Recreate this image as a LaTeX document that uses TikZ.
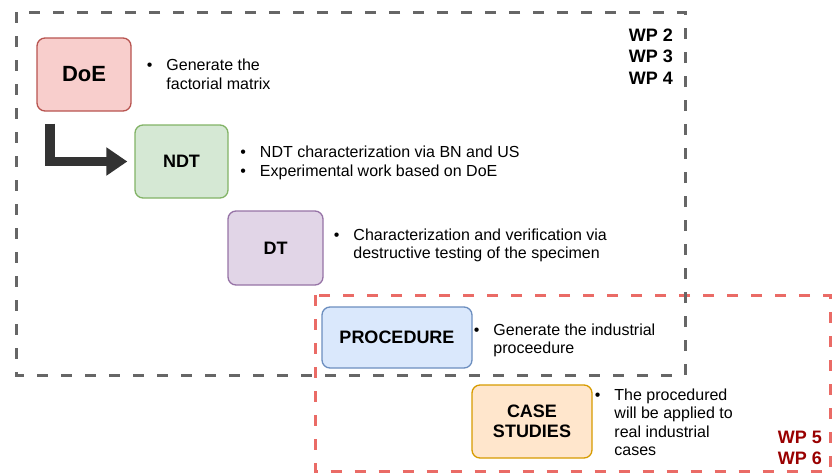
\documentclass[tikz,border=0pt]{standalone}
\usepackage{fontspec}
\setmainfont{Liberation Sans}
\usetikzlibrary{positioning,arrows.meta}

\definecolor{doefill}{HTML}{F8CECC}\definecolor{doeline}{HTML}{B85450}
\definecolor{ndtfill}{HTML}{D5E8D4}\definecolor{ndtline}{HTML}{82B366}
\definecolor{dtfill}{HTML}{E1D5E7}\definecolor{dtline}{HTML}{9673A6}
\definecolor{procfill}{HTML}{DAE8FC}\definecolor{procline}{HTML}{6C8EBF}
\definecolor{casefill}{HTML}{FFE6CC}\definecolor{caseline}{HTML}{D79B00}
\definecolor{wpgrey}{HTML}{666666}\definecolor{wpred}{HTML}{EA6B66}
\definecolor{wpdark}{HTML}{990000}\definecolor{arrowgrey}{HTML}{333333}

\newcommand{\bitems}[1]{\begin{tabular}{@{}c@{\hspace{14pt}}l@{}}#1\end{tabular}}

\tikzset{
    stage/.style={draw, rounded corners=8pt, line width=1.3pt, align=center, inner sep=0pt,
        font=\fontsize{18}{20.5}\selectfont\bfseries},
    notes/.style={inner sep=0pt, anchor=west, font=\fontsize{16}{18.5}\selectfont},
    wpframe/.style={line width=3pt, dash pattern=on 11pt off 13pt},
    wplabel/.style={inner sep=0pt, align=right, anchor=north east,
        font=\fontsize{18}{21.5}\selectfont\bfseries},
    bigarrow/.style={arrowgrey, line width=9.5pt, -{Triangle[length=21pt,width=27pt]}, shorten >=7pt}
}

\begin{document}
\begin{tikzpicture}[x=1pt,y=-1pt]
    \useasboundingbox (0,0) rectangle (833,472);

    \draw[wpframe,wpred] (315,295) rectangle (830,471.5);
    \draw[wpframe,wpgrey] (16,12) rectangle (685,375);

    \node[wplabel] (wpA) at (673,28.5) {WP 2\\WP 3\\WP 4};
    \node[wplabel,wpdark] (wpB) at (822,430.5) {WP 5\\WP 6};

    \node[stage,fill=doefill,draw=doeline,minimum width=94pt,minimum height=73pt,
        font=\fontsize{22}{24}\selectfont\bfseries] (DoE) at (84,74.5) {DoE};
    \node[stage,fill=ndtfill,draw=ndtline,minimum width=93pt,minimum height=73pt] (NDT) at (181.5,161.5) {NDT};
    \node[stage,fill=dtfill,draw=dtline,minimum width=95pt,minimum height=74pt] (DT) at (275.5,248) {DT};
    \node[stage,fill=procfill,draw=procline,minimum width=150pt,minimum height=61pt] (PROC) at (397,337.5) {PROCEDURE};
    \node[stage,fill=casefill,draw=caseline,minimum width=120pt,minimum height=73pt] (CASE) at (532,421.5) {CASE\\STUDIES};

    \node[notes,right=15pt of DoE,yshift=-2pt] (doeN) {\bitems{\textbullet & Generate the\\ & factorial matrix}};
    \node[notes,right=11.5pt of NDT,yshift=-2pt] (ndtN) {\bitems{\textbullet & NDT characterization via BN and US\\
        \textbullet & Experimental work based on DoE}};
    \node[notes,right=10pt of DT,yshift=2pt] (dtN) {\bitems{\textbullet & Characterization and verification via\\
        & destructive testing of the specimen}};
    \node[notes,right=1pt of PROC,yshift=-3.5pt] (procN) {\bitems{\textbullet & Generate the industrial\\ & proceedure}};
    \node[notes,right=2pt of CASE,yshift=-3pt] (caseN) {\bitems{\textbullet & The procedured\\ & will be applied to\\
        & real industrial\\ & cases}};

    \coordinate (start) at ([xshift=13.5pt,yshift=-12pt]DoE.south west);
    \draw[bigarrow] (start) |- (NDT.west);
\end{tikzpicture}
\end{document}
